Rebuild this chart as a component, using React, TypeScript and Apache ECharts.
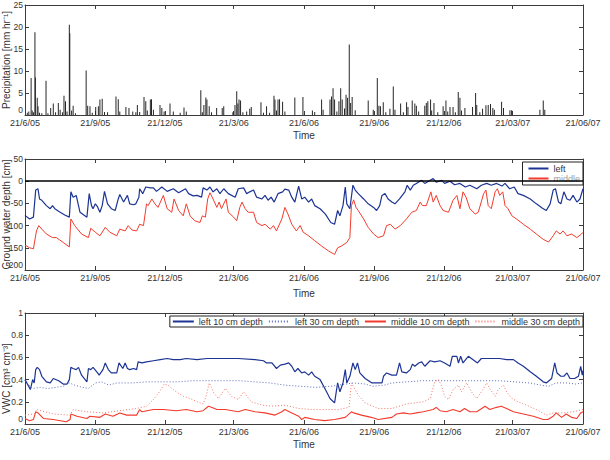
import { useEffect, useRef } from 'react';
import * as echarts from 'echarts';

// x positions are days since 21 June 2005
const tickDays = [0, 92, 183, 273, 365, 457, 548, 638, 730];
const tickLabels = ['21/6/05', '21/9/05', '21/12/05', '21/3/06', '21/6/06', '21/9/06', '21/12/06', '21/03/07', '21/06/07'];

// hourly precipitation peaks [day, mm/hr]
const precipitation: [number, number][] = [
  [3, 0.5], [5, 0.8], [8, 8.4], [9.4, 1], [11, 0.6], [13, 18.8], [13.6, 8.5], [16, 3.9], [17, 2], [19, 0.5], [22, 0.4],
  [27.5, 7.8], [30, 0.4], [33.6, 1.6], [37, 2.6], [40, 0.6], [43.6, 2.7], [46, 1.2], [49, 0.6], [51, 4.4], [53, 3.1],
  [55, 0.8], [58, 20.5], [58.6, 18.6], [61, 1.0], [63, 2.1], [66, 0.4], [80, 10.1], [82, 2.1], [85, 2], [88, 0.5],
  [92.5, 1.8], [96, 2], [98, 3.5], [101, 3.7], [104, 0.7], [108, 0.6], [119, 4.2], [122, 3.6], [124, 0.8], [132, 1.8],
  [136, 1.6], [141, 0.8], [145, 0.6], [147, 2.3], [150, 0.7], [155.7, 4.1], [158, 3.1], [160, 1.0], [164, 3.5],
  [165.5, 3.6], [168, 1.2], [176.6, 2.3], [179, 1.6], [182, 0.8], [189.7, 2.6], [194, 0.8], [203, 0.5], [208, 1.7],
  [211, 0.8], [230, 5.6], [232, 0.6], [234, 2.3], [236.6, 4], [238, 3.5], [241, 2], [244, 0.6], [250.7, 1.6], [258, 1.6],
  [260, 2], [272, 0.6], [274.7, 2.3], [277, 5.4], [278.5, 2.6], [280, 3.5], [282, 3.3], [285, 0.6], [290, 0.8], [294, 1.4],
  [296, 1.8], [308.7, 2.9], [312, 0.5], [316, 2], [320, 0.5], [325.7, 4.4], [327, 3.5], [329, 1], [331, 3.5], [333, 3.6],
  [337, 3], [340, 0.8], [353, 4], [363.6, 4.1], [376, 1], [379, 0.7], [388, 3.5], [390, 1.2], [399, 3.5], [401, 4.2],
  [403, 6.1], [405, 3.5], [408, 0.8], [410.7, 3.1], [413, 6.1], [415, 3.5], [418, 1.5], [420, 4.6], [422, 3.9],
  [424.2, 16], [426, 2.7], [428, 4.1], [432, 1.1], [449, 3.3], [455.6, 1.2], [460.9, 8.4], [463, 2.1], [465, 2],
  [468.7, 2.9], [472, 0.6], [477.4, 1.4], [481.8, 6.5], [484, 1.2], [491.4, 2.6], [495, 0.6], [499.2, 2.9], [501, 1.8],
  [506.6, 3.3], [510, 2.6], [512, 2.1], [515, 0.8], [523, 2.1], [525, 2.7], [527, 3.1], [530.6, 3.5], [532, 1],
  [535, 2.7], [540, 0.6], [547, 2], [550.7, 3.3], [553, 0.8], [556, 1.8], [560, 1.8], [563, 0.6], [566.8, 5.2],
  [569, 3.9], [571, 1], [575.5, 1.6], [585.5, 1.8], [589.5, 5], [591, 2.3], [595, 0.6], [598.6, 1.4], [603, 2.2],
  [606, 2.3], [609, 2.5], [612, 1.6], [614, 1.2], [623.5, 3], [626, 1.6], [634.4, 1.1], [636.6, 1.1], [673.6, 1.2],
  [678, 3.3], [680, 1.2],
];

// ground water depth [day, cm]
const gwLeft: [number, number][] = [
  [0, -77], [6, -85], [11, -81], [14, -20], [17, -17], [19, -40], [22, -43], [28, -55], [33, -62], [36, -55], [39, -62],
  [46, -70], [52, -76], [58, -81], [60, -24], [63, -36], [67, -32], [72, -70], [81, -81], [84, -28], [87, -55], [89, -62],
  [92, -51], [95, -58], [98, -70], [101, -55], [104, -23], [108, -51], [113, -62], [118, -66], [122, -40], [124, -30],
  [129, -47], [134, -32], [137, -51], [142, -53], [145, -51], [149, -36], [150, -17], [154, -28], [158, -13], [164, -15],
  [168, -15], [172, -23], [179, -13], [186, -23], [194, -17], [201, -26], [210, -17], [214, -28], [220, -33], [225, -32],
  [231, -36], [233, -15], [238, -20], [242, -13], [246, -24], [251, -17], [255, -28], [260, -17], [266, -28], [275, -36],
  [279, -17], [286, -15], [290, -28], [294, -24], [299, -20], [303, -36], [310, -40], [314, -32], [318, -43], [322, -36],
  [326, -47], [331, -28], [337, -24], [340, -18], [345, -20], [349, -36], [353, -47], [358, -11], [362, -40], [366, -36],
  [371, -47], [375, -40], [379, -55], [386, -62], [393, -74], [400, -93], [405, -97], [409, -66], [412, -78], [416, -55],
  [419, -13], [421, -51], [425, -62], [429, -9], [432, -20], [436, -28], [443, -40], [449, -51], [456, -59], [460, -66],
  [464, -55], [467, -32], [471, -28], [475, -40], [480, -47], [484, -51], [490, -40], [497, -24], [500, -9], [504, -20],
  [508, -9], [512, -5], [519, 2], [523, -5], [530, 2], [534, 6], [538, -2], [545, 2], [549, -5], [556, 0], [562, -8],
  [569, -5], [576, -13], [582, -9], [591, -17], [597, -9], [604, -5], [610, -9], [617, -5], [624, -11], [628, -5],
  [634, -17], [640, -13], [645, -28], [652, -32], [661, -40], [669, -51], [677, -61], [682, -66], [687, -51], [691, -20],
  [694, -17], [698, -47], [701, -51], [705, -24], [709, -40], [713, -43], [717, -32], [722, -47], [726, -40], [730, -17],
];

const gwMiddle: [number, number][] = [
  [0, -144], [6, -150], [11, -152], [15, -112], [18, -100], [22, -108], [28, -119], [36, -127], [41, -127], [50, -138],
  [58, -148], [60, -85], [65, -100], [74, -119], [83, -127], [86, -106], [92, -115], [98, -123], [105, -104], [111, -115],
  [120, -123], [124, -108], [131, -112], [135, -100], [140, -110], [146, -112], [150, -97], [155, -100], [159, -51],
  [161, -55], [166, -40], [170, -51], [174, -59], [181, -32], [186, -62], [192, -70], [195, -40], [201, -66], [207, -78],
  [211, -51], [216, -78], [222, -89], [229, -93], [232, -78], [236, -81], [239, -40], [242, -26], [246, -40], [251, -59],
  [254, -47], [257, -62], [263, -40], [266, -70], [273, -81], [277, -89], [281, -59], [284, -47], [288, -62], [292, -70],
  [299, -70], [303, -93], [310, -100], [314, -97], [321, -108], [325, -100], [329, -112], [336, -85], [340, -59],
  [344, -74], [349, -97], [355, -112], [360, -100], [364, -115], [371, -123], [379, -134], [388, -146], [397, -157],
  [405, -165], [409, -150], [414, -146], [421, -138], [425, -127], [427, -55], [430, -42], [433, -59], [436, -66],
  [443, -85], [449, -104], [456, -119], [462, -127], [469, -123], [473, -100], [478, -97], [484, -108], [491, -100],
  [499, -85], [506, -70], [512, -66], [517, -47], [520, -55], [525, -55], [531, -24], [534, -47], [538, -32], [543, -55],
  [547, -66], [554, -70], [560, -43], [565, -32], [569, -62], [573, -24], [577, -36], [582, -62], [589, -74], [593, -70],
  [600, -28], [603, -20], [606, -55], [610, -62], [615, -24], [618, -17], [621, -32], [625, -24], [628, -55], [632, -62],
  [637, -78], [643, -85], [652, -97], [661, -108], [669, -119], [678, -131], [685, -137], [691, -123], [695, -112],
  [700, -119], [704, -112], [709, -123], [715, -119], [722, -127], [728, -119], [730, -115],
];

// volumetric water content [day, cm3/cm3]
const vwcLeft10: [number, number][] = [
  [0, 0.40], [4, 0.35], [7, 0.31], [10, 0.40], [12, 0.37], [14, 0.49], [16, 0.51], [19, 0.49], [22, 0.43], [28, 0.38],
  [33, 0.37], [37, 0.41], [44, 0.39], [50, 0.36], [55, 0.36], [58, 0.40], [60, 0.51], [63, 0.50], [67, 0.49], [70, 0.51],
  [74, 0.44], [81, 0.38], [83, 0.50], [86, 0.49], [89, 0.51], [95, 0.46], [97, 0.44], [102, 0.49], [105, 0.55],
  [109, 0.49], [113, 0.46], [120, 0.46], [123, 0.55], [128, 0.50], [131, 0.55], [134, 0.50], [137, 0.49], [142, 0.50],
  [146, 0.49], [148, 0.56], [153, 0.55], [159, 0.56], [168, 0.57], [177, 0.58], [186, 0.59], [194, 0.58], [203, 0.58],
  [211, 0.59], [225, 0.58], [238, 0.59], [257, 0.59], [279, 0.59], [301, 0.58], [312, 0.57], [316, 0.55], [323, 0.55],
  [329, 0.50], [334, 0.53], [340, 0.54], [345, 0.55], [349, 0.52], [353, 0.47], [357, 0.50], [362, 0.46], [366, 0.47],
  [371, 0.44], [375, 0.47], [379, 0.43], [386, 0.40], [393, 0.31], [399, 0.23], [405, 0.19], [409, 0.37], [412, 0.29],
  [416, 0.37], [419, 0.49], [421, 0.37], [425, 0.43], [429, 0.55], [432, 0.49], [435, 0.55], [438, 0.46], [445, 0.41],
  [454, 0.37], [460, 0.37], [467, 0.37], [469, 0.43], [473, 0.46], [480, 0.44], [486, 0.44], [490, 0.55], [493, 0.47],
  [499, 0.46], [504, 0.49], [507, 0.54], [510, 0.52], [515, 0.55], [519, 0.56], [523, 0.52], [530, 0.57], [536, 0.56],
  [543, 0.57], [549, 0.55], [556, 0.52], [559, 0.61], [565, 0.61], [567, 0.55], [570, 0.61], [573, 0.55], [580, 0.61],
  [584, 0.59], [592, 0.55], [597, 0.59], [608, 0.59], [621, 0.59], [630, 0.58], [639, 0.58], [645, 0.55], [652, 0.52],
  [661, 0.47], [669, 0.43], [678, 0.38], [682, 0.37], [689, 0.41], [693, 0.55], [696, 0.46], [701, 0.43], [705, 0.43],
  [709, 0.46], [713, 0.41], [719, 0.41], [724, 0.43], [727, 0.52], [729, 0.44], [730, 0.48],
];

const vwcLeft30: [number, number][] = [
  [0, 0.39], [5, 0.35], [10, 0.32], [20, 0.33], [30, 0.32], [40, 0.33], [50, 0.34], [58, 0.37], [65, 0.35], [75, 0.33],
  [83, 0.32], [92, 0.37], [100, 0.38], [110, 0.35], [120, 0.37], [140, 0.37], [160, 0.38], [180, 0.38], [200, 0.38],
  [220, 0.39], [240, 0.39], [260, 0.39], [280, 0.39], [300, 0.38], [320, 0.37], [340, 0.35], [360, 0.34], [380, 0.33],
  [400, 0.34], [420, 0.36], [430, 0.37], [445, 0.36], [455, 0.34], [470, 0.35], [480, 0.37], [500, 0.38], [520, 0.39],
  [540, 0.39], [560, 0.39], [580, 0.39], [600, 0.39], [620, 0.39], [640, 0.38], [660, 0.37], [675, 0.35], [685, 0.34],
  [695, 0.37], [710, 0.37], [720, 0.36], [730, 0.37],
];

const vwcMiddle10: [number, number][] = [
  [0, 0.05], [6, 0.03], [11, 0.04], [14, 0.11], [17, 0.10], [24, 0.05], [37, 0.04], [54, 0.02], [59, 0.04], [60, 0.09],
  [68, 0.07], [81, 0.05], [85, 0.07], [98, 0.06], [105, 0.09], [115, 0.07], [124, 0.10], [133, 0.08], [146, 0.08],
  [150, 0.13], [153, 0.11], [168, 0.13], [181, 0.13], [198, 0.12], [211, 0.13], [225, 0.11], [233, 0.12], [240, 0.16],
  [244, 0.15], [251, 0.13], [262, 0.13], [279, 0.11], [288, 0.13], [301, 0.11], [314, 0.10], [327, 0.08], [336, 0.11],
  [340, 0.13], [349, 0.10], [358, 0.07], [362, 0.04], [366, 0.06], [379, 0.04], [392, 0.03], [405, 0.04], [419, 0.06],
  [427, 0.11], [430, 0.10], [440, 0.08], [453, 0.06], [462, 0.04], [480, 0.06], [486, 0.09], [495, 0.10], [504, 0.09],
  [512, 0.10], [521, 0.11], [534, 0.13], [538, 0.15], [543, 0.12], [551, 0.11], [560, 0.13], [569, 0.11], [575, 0.14],
  [582, 0.11], [591, 0.11], [602, 0.16], [608, 0.13], [617, 0.15], [623, 0.16], [630, 0.14], [639, 0.11], [652, 0.09],
  [665, 0.07], [678, 0.04], [684, 0.04], [691, 0.07], [695, 0.10], [702, 0.06], [708, 0.09], [715, 0.06], [722, 0.05],
  [727, 0.10], [730, 0.11],
];

const vwcMiddle30: [number, number][] = [
  [0, 0.08], [12, 0.09], [15, 0.13], [37, 0.09], [59, 0.08], [63, 0.13], [81, 0.11], [102, 0.10], [124, 0.12],
  [146, 0.14], [159, 0.16], [168, 0.22], [176, 0.29], [182, 0.36], [187, 0.35], [194, 0.31], [200, 0.28], [207, 0.25],
  [216, 0.23], [225, 0.20], [233, 0.18], [237, 0.25], [241, 0.37], [244, 0.33], [247, 0.28], [253, 0.23], [262, 0.32],
  [270, 0.25], [279, 0.22], [286, 0.29], [296, 0.20], [310, 0.17], [323, 0.16], [340, 0.17], [358, 0.14], [375, 0.13],
  [392, 0.13], [410, 0.13], [424, 0.15], [427, 0.37], [436, 0.26], [445, 0.19], [462, 0.14], [480, 0.14], [499, 0.18],
  [521, 0.20], [530, 0.23], [536, 0.38], [541, 0.40], [545, 0.34], [549, 0.25], [554, 0.22], [560, 0.31], [567, 0.35],
  [571, 0.29], [578, 0.37], [584, 0.29], [591, 0.23], [600, 0.32], [604, 0.37], [608, 0.32], [615, 0.25], [619, 0.31],
  [626, 0.35], [630, 0.29], [637, 0.23], [645, 0.20], [656, 0.17], [669, 0.13], [682, 0.08], [691, 0.10], [704, 0.10],
  [717, 0.11], [730, 0.13],
];

const FONT = '"Liberation Sans", Arial, Helvetica, sans-serif';
const TXT = '#333333';
const AX = '#3c3c3c';
const BLUE = '#1d3494';
const RED = '#f23b2d';
const BLUE_DOT = '#5b6cc0';
const RED_DOT = '#f2756c';

const panels = [
  { top: 5, height: 110, min: 0, max: 25, interval: 5, timeGap: 15, namePad: [0, 0, 0, 0], name: 'Precipitation [mm hr\u207B\u00B9]' },
  { top: 159, height: 111, min: -200, max: 50, interval: 50, timeGap: 18, namePad: [0, 0, 0, 0], name: 'Ground water depth [cm]' },
  { top: 313, height: 111, min: 0, max: 1, interval: 0.2, timeGap: 15, namePad: [0, 20, 0, 0], name: 'VWC [cm\u00B3 cm\u207B\u00B3]' },
];

function dateLabel(v: number): string {
  const i = tickDays.indexOf(v);
  return i >= 0 ? tickLabels[i] : '';
}

function buildOption() {
  const grid = panels.map((p) => ({
    left: 25, right: 27, top: p.top, height: p.height, outerBoundsMode: 'none',
  }));

  const xAxis: any[] = [];
  const yAxis: any[] = [];
  panels.forEach((p, gi) => {
    const xCommon = {
      type: 'value', gridIndex: gi, min: 0, max: 730,
      splitLine: { show: false },
      axisLine: { show: true, onZero: false, lineStyle: { color: AX, width: 1 } },
      axisTick: { show: true, inside: true, length: 4, customValues: tickDays, lineStyle: { color: AX } },
    };
    xAxis.push({
      ...xCommon, position: 'bottom',
      name: 'Time', nameLocation: 'middle', nameGap: p.timeGap, nameMoveOverlap: false,
      nameTextStyle: { fontSize: 10, color: TXT, fontFamily: FONT },
      axisLabel: { customValues: tickDays, formatter: dateLabel, fontSize: 9, color: TXT, margin: 3, fontFamily: FONT },
    });
    xAxis.push({ ...xCommon, position: 'top', axisLabel: { show: false } });

    const yCommon = {
      type: 'value', gridIndex: gi, min: p.min, max: p.max, interval: p.interval,
      splitLine: { show: false },
      axisLine: { show: true, onZero: false, lineStyle: { color: AX, width: 1 } },
      axisTick: { show: true, inside: true, length: 4, lineStyle: { color: AX } },
    };
    yAxis.push({
      ...yCommon, position: 'left',
      name: p.name, nameLocation: 'middle', nameGap: 14, nameMoveOverlap: false,
      nameTextStyle: { fontSize: 10, color: TXT, fontFamily: FONT, padding: p.namePad },
      axisLabel: {
        fontSize: 8.5, color: TXT, margin: 2, fontFamily: FONT,
        formatter: (v: number) => {
          const s = String(Math.round(v * 100) / 100);
          return v === p.min ? `{lo|${s}}` : s;
        },
        rich: { lo: { padding: [0, 0, 10, 0], fontSize: 8.5, color: TXT, fontFamily: FONT } },
      },
    });
    yAxis.push({ ...yCommon, position: 'right', axisLabel: { show: false } });
  });

  const line = (name: string, data: [number, number][], gi: number, color: string, width: number, type: any = 'solid') => ({
    name, type: 'line', data, xAxisIndex: gi * 2, yAxisIndex: gi * 2,
    symbol: 'none', showSymbol: false, silent: true,
    lineStyle: { color, width, type }, itemStyle: { color },
  });

  const series: any[] = [
    {
      name: 'precipitation', type: 'bar', data: precipitation, xAxisIndex: 0, yAxisIndex: 0,
      barWidth: 1, itemStyle: { color: '#262626' }, silent: true,
    },
    {
      ...line('left', gwLeft, 1, BLUE, 1.2),
      markLine: {
        silent: true, symbol: 'none', label: { show: false },
        lineStyle: { color: '#000', width: 1.6, type: 'solid' },
        data: [{ yAxis: 0 }],
      },
    },
    line('middle', gwMiddle, 1, RED, 1),
    line('left 10 cm depth', vwcLeft10, 2, BLUE, 1.2),
    line('left 30 cm depth', vwcLeft30, 2, BLUE_DOT, 1, [1, 2]),
    line('middle 10 cm depth', vwcMiddle10, 2, RED, 1.1),
    line('middle 30 cm depth', vwcMiddle30, 2, RED_DOT, 1, [1, 2]),
  ];

  const legendBase = {
    backgroundColor: '#fff', borderColor: '#222', borderWidth: 1, borderRadius: 0,
    selectedMode: false,
    itemStyle: { opacity: 0 },
    textStyle: { fontSize: 9, color: TXT, fontFamily: FONT },
  };

  return {
    animation: false,
    textStyle: { fontFamily: FONT },
    grid, xAxis, yAxis, series,
    legend: [
      {
        ...legendBase, orient: 'vertical', right: 27, top: 162,
        itemWidth: 20, itemHeight: 8, itemGap: 1, padding: [2, 3, 2, 5],
        data: ['left', { name: 'middle', textStyle: { color: '#9a9a9a' } }],
      },
      {
        ...legendBase, orient: 'horizontal', right: 27, top: 316,
        itemWidth: 21, itemHeight: 8, itemGap: 5, padding: [1, 3, 1, 2],
        data: ['left 10 cm depth', 'left 30 cm depth', 'middle 10 cm depth', 'middle 30 cm depth'],
      },
    ],
  };
}

export default function App() {
  const ref = useRef<HTMLDivElement>(null);
  useEffect(() => {
    document.body.style.margin = '0';
    if (!ref.current) return;
    const chart = echarts.init(ref.current, undefined, { renderer: 'svg' });
    chart.setOption(buildOption() as any);
    return () => chart.dispose();
  }, []);
  return <div ref={ref} style={{ width: 610, height: 460, background: '#fff' }} />;
}
